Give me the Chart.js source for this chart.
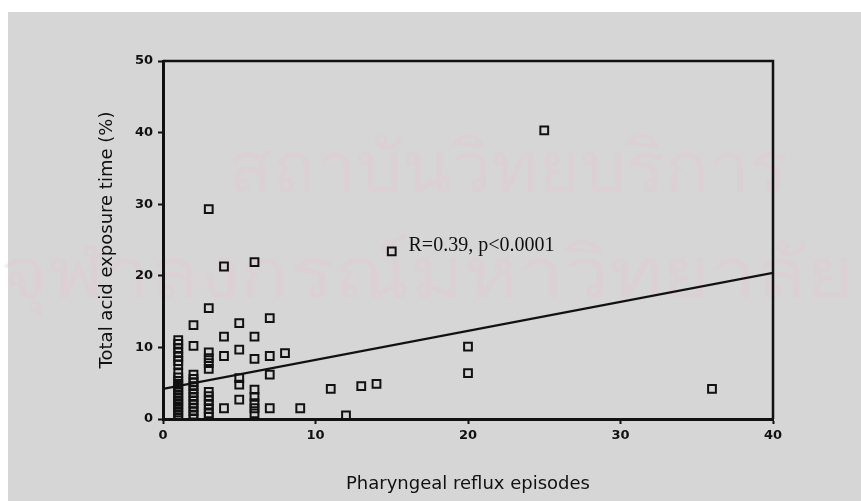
<!DOCTYPE html>
<html>
<head>
<meta charset="utf-8">
<script src="https://cdn.jsdelivr.net/npm/chart.js@4.4.1/dist/chart.umd.min.js"></script>
<style>
  html, body { margin: 0; padding: 0; background: #fff; }
  #wrap { width: 861px; height: 501px; }
</style>
</head>
<body>
<div id="wrap"><canvas id="scatterChart" width="861" height="501"></canvas></div>
<script>
// pharyngeal reflux episodes (x) vs total acid exposure time % (y)
const episodes = [
    1,1,1,1,1,1,1,1,1,1,1,1,1,1,1,1,1,1,1,1,1,1,1,
    2,2,2,2,2,2,2,2,2,2,2,2,2,2,2,
    3,3,3,3,3,3,3,3,3,3,3,3,3,
    4,4,4,4,
    5,5,5,5,5,
    6,6,6,6,6,6,6,6,
    7,7,7,7,
    8, 9, 11, 12, 13, 14, 15, 20, 20, 25, 36
];
const acidTime = [
    0.1,0.5,0.9,1.3,1.7,2.1,2.5,2.9,3.3,3.7,4.1,4.5,4.9,5.3,5.8,6.4,7.6,8.1,8.7,9.3,9.9,10.5,11.0,
    0.1,0.6,1.1,1.6,2.1,2.6,3.1,3.6,4.1,4.6,5.1,5.6,6.2,10.2,13.1,
    0.3,0.8,1.4,2.0,2.6,3.2,3.8,7.0,7.8,8.5,9.3,15.5,29.3,
    1.5,8.8,11.5,21.3,
    2.7,4.8,5.7,9.7,13.4,
    0.8,1.5,2.2,3.1,4.1,8.4,11.5,21.9,
    1.5,6.2,8.8,14.1,
    9.2, 1.5, 4.2, 0.5, 4.6, 4.9, 23.4, 10.1, 6.4, 40.3, 4.2
];
// regression line end points
const fitX = [0, 40];
const fitY = [4.2, 20.4];

const xTicks = [0, 10, 20, 30, 40];
const yTicks = [0, 10, 20, 30, 40, 50];

const statText = "R=0.39, p<0.0001";
const statPos = [16.1, 23.5];

const points = episodes.map((x, i) => ({ x: x, y: acidTime[i] }));
const fitPoints = fitX.map((x, i) => ({ x: x, y: fitY[i] }));

const paperPlugin = {
    id: 'paper',
    beforeDraw(chart) {
        const ctx = chart.ctx;
        ctx.save();
        ctx.fillStyle = '#ffffff';
        ctx.fillRect(0, 0, chart.width, chart.height);
        ctx.fillStyle = '#d6d6d6';
        ctx.fillRect(8, 12, chart.width - 8, chart.height - 12);
        // faint watermark from the scan
        ctx.fillStyle = 'rgba(232,196,208,0.3)';
        ctx.font = '72px "Noto Sans", "DejaVu Sans", sans-serif';
        ctx.textBaseline = 'alphabetic';
        ctx.textAlign = 'left';
        ctx.fillText('สถาบันวิทยบริการ', 228, 192);
        ctx.save();
        ctx.scale(1.14, 1);
        ctx.fillText('จุฬาลงกรณ์มหาวิทยาลัย', 0, 298);
        ctx.restore();
        ctx.restore();
    },
    afterDraw(chart) {
        const ctx = chart.ctx;
        const area = chart.chartArea;
        ctx.save();
        ctx.strokeStyle = '#111';
        ctx.lineWidth = 2.5;
        ctx.beginPath();
        ctx.moveTo(area.left, area.top);
        ctx.lineTo(area.right, area.top);
        ctx.lineTo(area.right, area.bottom);
        ctx.stroke();

        const xs = chart.scales.x, ys = chart.scales.y;
        ctx.fillStyle = '#111';
        ctx.font = '20px "Liberation Serif", "Times New Roman", serif';
        ctx.textBaseline = 'alphabetic';
        ctx.fillText(statText, xs.getPixelForValue(statPos[0]), ys.getPixelForValue(statPos[1]));
        ctx.restore();
    }
};

const tickFont = { family: '"DejaVu Sans", sans-serif', size: 13, weight: 'bold' };
const titleFont = { family: '"DejaVu Sans", sans-serif', size: 18 };

new Chart(document.getElementById('scatterChart').getContext('2d'), {
    type: 'scatter',
    data: {
        datasets: [{
            label: 'Patients',
            data: points,
            pointStyle: 'rect',
            pointRadius: 5.5,
            borderWidth: 2,
            borderColor: '#111',
            backgroundColor: 'rgba(0,0,0,0)'
        }, {
            type: 'line',
            label: 'Fit',
            data: fitPoints,
            borderColor: '#111',
            borderWidth: 2.2,
            pointRadius: 0,
            fill: false
        }]
    },
    options: {
        responsive: false,
        animation: false,
        layout: { padding: { left: 88, top: 61, right: 88, bottom: 0 } },
        plugins: {
            legend: { display: false },
            tooltip: { enabled: false }
        },
        scales: {
            x: {
                type: 'linear',
                min: 0,
                max: 40,
                afterBuildTicks: s => { s.ticks = xTicks.map(v => ({ value: v })); },
                afterFit: s => { s.height = 82; },
                border: { color: '#111', width: 3 },
                grid: { drawOnChartArea: false, drawTicks: true, tickLength: 5, tickWidth: 2, tickColor: '#111' },
                ticks: { color: '#111', font: tickFont, padding: 4, maxRotation: 0 },
                title: {
                    display: true,
                    text: 'Pharyngeal reflux episodes',
                    color: '#111',
                    font: titleFont,
                    padding: { top: 0, bottom: 6 }
                }
            },
            y: {
                type: 'linear',
                min: 0,
                max: 50,
                afterBuildTicks: s => { s.ticks = yTicks.map(v => ({ value: v })); },
                afterFit: s => { s.width = 75; },
                border: { color: '#111', width: 3 },
                grid: { drawOnChartArea: false, drawTicks: true, tickLength: 5, tickWidth: 2, tickColor: '#111' },
                ticks: { color: '#111', font: tickFont, padding: 5 },
                title: {
                    display: true,
                    text: 'Total acid exposure time (%)',
                    color: '#111',
                    font: titleFont,
                    padding: { top: 9, bottom: 0 }
                }
            }
        }
    },
    plugins: [paperPlugin]
});
</script>
</body>
</html>
